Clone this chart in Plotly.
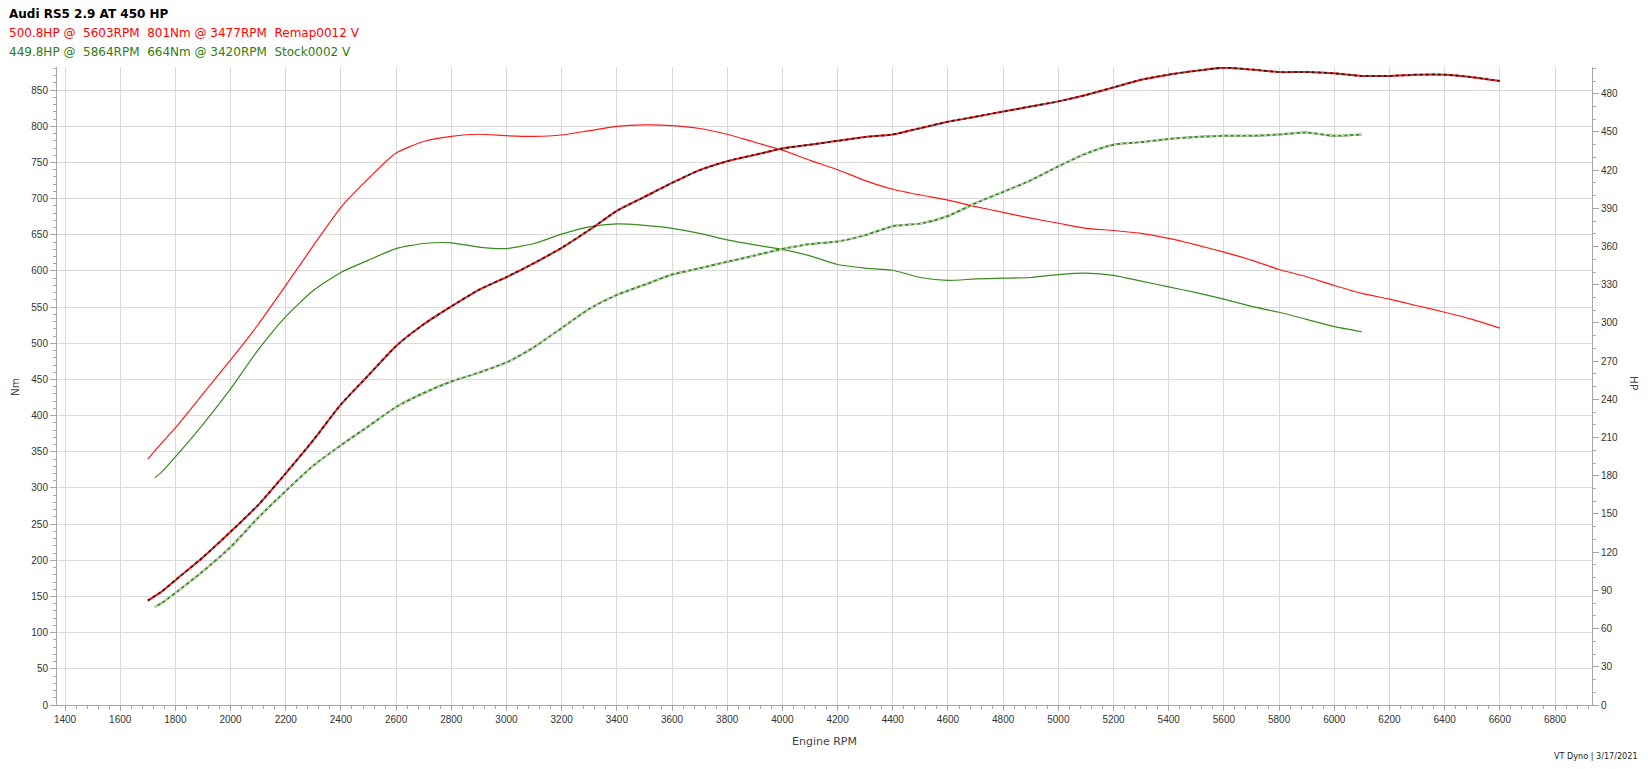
import plotly.graph_objects as go

# ---------------- data ----------------
remap_rpm = [1700, 1750, 1800, 1900, 2000, 2100, 2200, 2300, 2400, 2500, 2600, 2700, 2800, 2900,
             3000, 3100, 3200, 3300, 3400, 3500, 3600, 3700, 3800, 3900, 4000, 4100, 4200, 4300,
             4400, 4500, 4600, 4700, 4800, 4900, 5000, 5100, 5200, 5300, 5400, 5500, 5600, 5700,
             5800, 5900, 6000, 6100, 6200, 6300, 6400, 6500, 6600]
remap_nm = [340, 362, 383, 430, 477, 526, 580, 635, 688, 728, 763, 779, 786, 789,
            787, 786, 788, 794, 800, 802, 801, 797, 789, 778, 767, 753, 740, 725,
            713, 705, 698, 689, 681, 673, 666, 659, 656, 652, 645, 636, 626, 615,
            602, 592, 580, 569, 561, 552, 543, 533, 521]
remap_hp = [82, 89, 98, 116, 136, 157, 182, 208, 236, 259, 282, 299, 313, 326,
            336, 347, 359, 373, 388, 399, 410, 420, 427, 432, 437, 440, 443, 446,
            448, 453, 458, 462, 466, 470, 474, 479, 485, 491, 495, 498, 500.5, 499,
            497, 497, 496, 494, 494, 495, 495, 493, 490]

stock_rpm = [1725, 1750, 1800, 1900, 2000, 2100, 2200, 2300, 2400, 2500, 2600, 2700, 2800, 2900,
             3000, 3100, 3200, 3300, 3400, 3500, 3600, 3700, 3800, 3900, 4000, 4100, 4200, 4300,
             4400, 4500, 4600, 4700, 4800, 4900, 5000, 5100, 5200, 5300, 5400, 5500, 5600, 5700,
             5800, 5900, 6000, 6100]
stock_nm = [314, 322, 343, 388, 437, 491, 537, 573, 598, 615, 631, 638, 639, 633,
            631, 638, 651, 661, 665, 663, 659, 652, 643, 636, 630, 621, 609, 604,
            601, 591, 587, 589, 590, 591, 595, 597, 594, 586, 578, 570, 561, 551,
            543, 533, 523, 516]
stock_hp = [77, 80, 88, 105, 124, 147, 168, 188, 204, 219, 234, 245, 254, 261,
            269, 281, 296, 311, 322, 330, 338, 343, 348, 353, 358, 362, 364, 369,
            376, 378, 384, 394, 403, 412, 423, 433, 440, 442, 444.5, 446, 447, 447,
            448, 449.5, 447, 448]

title_text = "Audi RS5 2.9 AT 450 HP"
remap_text = "500.8HP @\u00a0\u00a05603RPM\u00a0\u00a0801Nm @ 3477RPM\u00a0\u00a0Remap0012 V"
stock_text = "449.8HP @\u00a0\u00a05864RPM\u00a0\u00a0664Nm @ 3420RPM\u00a0\u00a0Stock0002 V"
footer_text = "VT Dyno | 3/17/2021"

# ---------------- styling ----------------
OFF = 8                      # default page margin of the html body
W, H = 1648 - 2 * OFF, 769 - 2 * OFF
L, R, T, B = 57 - OFF, 1592 - OFF, 67 - OFF, 705 - OFF
RED = "#ff1a1a"
GREEN = "#3a8a1e"
GRID = "#d9d9d9"
AXIS = "#a6a6a6"
TICKFONT = dict(family="Liberation Sans, Arial, sans-serif", size=10, color="#333333")


def px(x):
    return (x - OFF - L) / (R - L)


def py(y):
    return (B - (y - OFF)) / (B - T)


def line(color, width, dash=None):
    d = dict(color=color, width=width, shape="spline", smoothing=0.6)
    if dash:
        d["dash"] = dash
    return d


fig = go.Figure()

fig.add_trace(go.Scatter(x=remap_rpm, y=remap_nm, mode="lines", line=line(RED, 1.2),
                         yaxis="y", showlegend=False, hoverinfo="skip"))
fig.add_trace(go.Scatter(x=stock_rpm, y=stock_nm, mode="lines", line=line(GREEN, 1.2),
                         yaxis="y", showlegend=False, hoverinfo="skip"))
fig.add_trace(go.Scatter(x=stock_rpm, y=stock_hp, mode="lines", line=line(GREEN, 2),
                         yaxis="y2", showlegend=False, hoverinfo="skip"))
fig.add_trace(go.Scatter(x=stock_rpm, y=stock_hp, mode="lines", line=line("#c9d3c4", 2, "3px,3px"),
                         yaxis="y2", showlegend=False, hoverinfo="skip"))
fig.add_trace(go.Scatter(x=remap_rpm, y=remap_hp, mode="lines", line=line(RED, 2),
                         yaxis="y2", showlegend=False, hoverinfo="skip"))
fig.add_trace(go.Scatter(x=remap_rpm, y=remap_hp, mode="lines", line=line("#222222", 1.8, "3px,3px"),
                         yaxis="y2", showlegend=False, hoverinfo="skip"))

fig.update_layout(
    width=W, height=H,
    margin=dict(l=L, r=W - R, t=T, b=H - B, pad=0),
    paper_bgcolor="white", plot_bgcolor="white",
    xaxis=dict(range=[1371, 6934], tick0=1400, dtick=200, showgrid=True, gridcolor=GRID, gridwidth=1,
               showline=True, linecolor=AXIS, linewidth=1, ticks="outside", ticklen=5, tickcolor=AXIS,
               zeroline=False, tickfont=TICKFONT,
               minor=dict(dtick=40, tick0=1400, ticks="outside", ticklen=3, tickcolor=AXIS, showgrid=False)),
    yaxis=dict(range=[0, 882], tick0=0, dtick=50, showgrid=True, gridcolor=GRID, gridwidth=1,
               showline=True, linecolor=AXIS, linewidth=1, ticks="outside", ticklen=6, tickcolor=AXIS,
               zeroline=False, tickfont=TICKFONT,
               minor=dict(dtick=10, ticks="outside", ticklen=3, tickcolor=AXIS, showgrid=False)),
    yaxis2=dict(range=[0, 501], tick0=0, dtick=30, overlaying="y", side="right", showgrid=False,
                showline=True, linecolor=AXIS, linewidth=1, ticks="outside", ticklen=6, tickcolor=AXIS,
                zeroline=False, tickfont=TICKFONT,
                minor=dict(dtick=10, ticks="outside", ticklen=3, tickcolor=AXIS, showgrid=False)),
)

ann = [
    dict(text="<b>" + title_text + "</b>", x=px(7), y=py(14), font=dict(family="DejaVu Sans", size=12, color="#000000"),
         xanchor="left", yanchor="middle"),
    dict(text=remap_text, x=px(7), y=py(33), font=dict(family="DejaVu Sans", size=12, color="#ff0000"),
         xanchor="left", yanchor="middle"),
    dict(text=stock_text, x=px(7), y=py(52), font=dict(family="DejaVu Sans", size=12, color="#2f7d12"),
         xanchor="left", yanchor="middle"),
    dict(text="Nm", x=px(15), y=py(387), textangle=-90, font=dict(family="DejaVu Sans", size=10.5, color="#444444"),
         xanchor="center", yanchor="middle"),
    dict(text="HP", x=px(1634), y=py(383), textangle=90, font=dict(family="DejaVu Sans", size=10.5, color="#444444"),
         xanchor="center", yanchor="middle"),
    dict(text="Engine RPM", x=px(824), y=py(741), font=dict(family="DejaVu Sans", size=11, color="#444444"),
         xanchor="center", yanchor="middle"),
    dict(text=footer_text, x=px(1640), y=py(756), font=dict(family="DejaVu Sans Condensed, DejaVu Sans", size=9, color="#222222"),
         xanchor="right", yanchor="middle"),
]
for a in ann:
    a.update(xref="paper", yref="paper", showarrow=False)
fig.update_layout(annotations=ann)

fig.write_html("out.html")
